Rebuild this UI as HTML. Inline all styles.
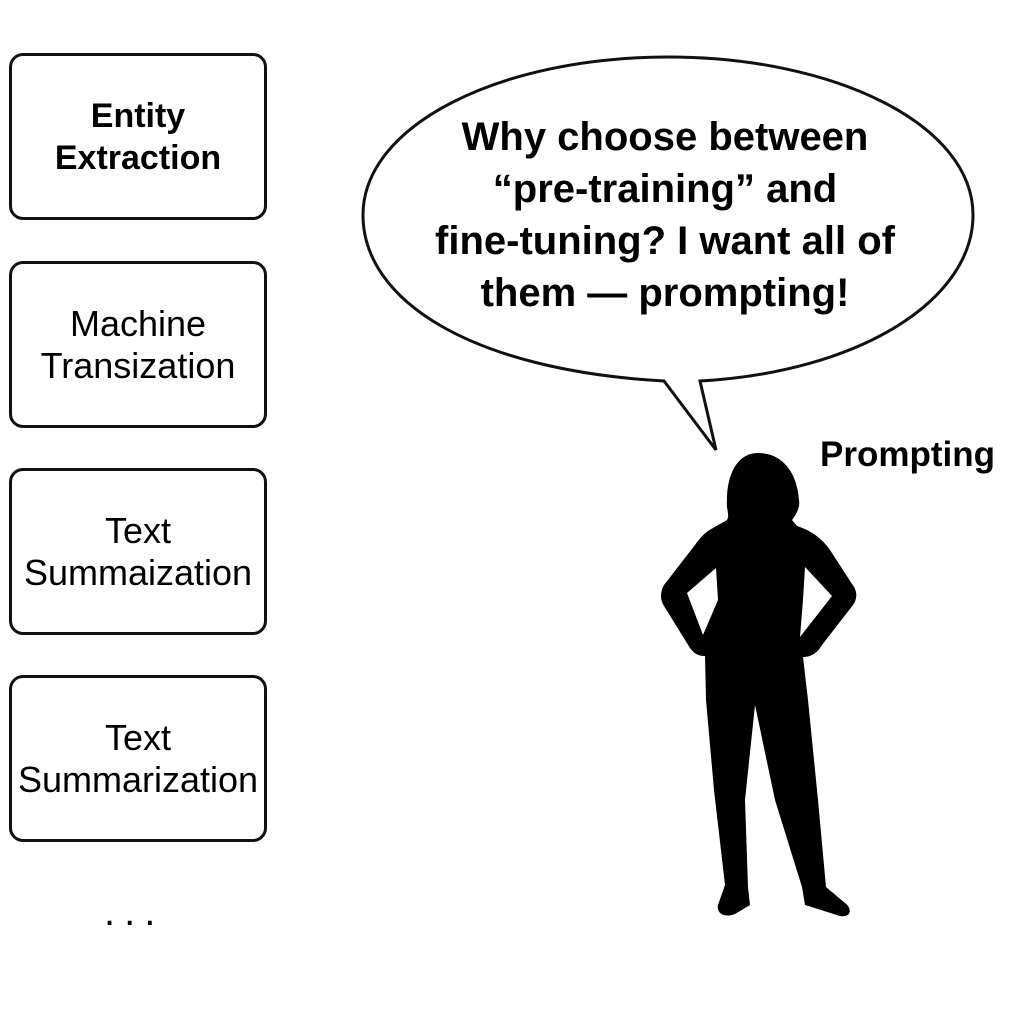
<!DOCTYPE html>
<html><head><style>
body{margin:0;width:1024px;height:1024px;background:#fff;position:relative;overflow:hidden;font-family:"Liberation Sans","DejaVu Sans",sans-serif;color:#000}
.b{position:absolute;left:9px;width:258px;height:167px;border:3px solid #111;border-radius:14px;box-sizing:border-box;display:flex;align-items:center;justify-content:center;text-align:center;font-size:36px;line-height:42px;white-space:nowrap}
.t{position:absolute;text-align:center;white-space:nowrap}
</style></head><body>
<div class="b" style="top:53px;font-weight:bold;font-size:34px">Entity<br>Extraction</div>
<div class="b" style="top:261px">Machine<br>Transization</div>
<div class="b" style="top:468px">Text<br>Summaization</div>
<div class="b" style="top:675px">Text<br>Summarization</div>
<div class="t" style="left:104px;top:890px;font-size:40px;letter-spacing:9px">...</div>
<svg width="1024" height="1024" style="position:absolute;left:0;top:0">
<path d="M664,381 C470,370 363,300 363,215 C363,125 500,57 668,57 C836,57 973,125 973,215 C973,300 860,372 700,381 L716,450 Z" fill="#fff" stroke="#111" stroke-width="3" stroke-linejoin="miter"/>
<path d="M758,453 C737,453 727,475 727,500 C726,510 730,515 727,520 L713,528 C705,532 700,538 695,545 L664,585 C660,592 660,600 664,606 L690,648 C695,655 700,656 705,656 L706,700 L714,790 L725,885 L718,905 C716,914 726,918 735,914 L750,905 L748,887 L745,800 L755,705 L775,800 L802,887 L805,905 L840,916 C852,918 852,908 845,903 L826,887 L818,800 L808,700 L803,657 C812,657 818,652 822,645 L853,605 C858,598 857,590 852,584 L830,550 C822,538 810,530 797,526 L792,520 C798,512 800,506 799,500 C797,472 782,453 758,453 Z M687,593 L716,568 L718,600 L703,635 Z M832,596 L805,567 L803,600 L800,637 Z" fill="#000" fill-rule="evenodd"/>
</svg>
<div class="t" style="left:400px;width:530px;top:111px;font-size:40px;line-height:52px;font-weight:bold">Why choose between<br>“pre-training” and<br>fine-tuning? I want all of<br>them — prompting!</div>
<div class="t" style="left:820px;top:435px;font-size:35px;font-weight:bold;">Prompting</div>
</body></html>
